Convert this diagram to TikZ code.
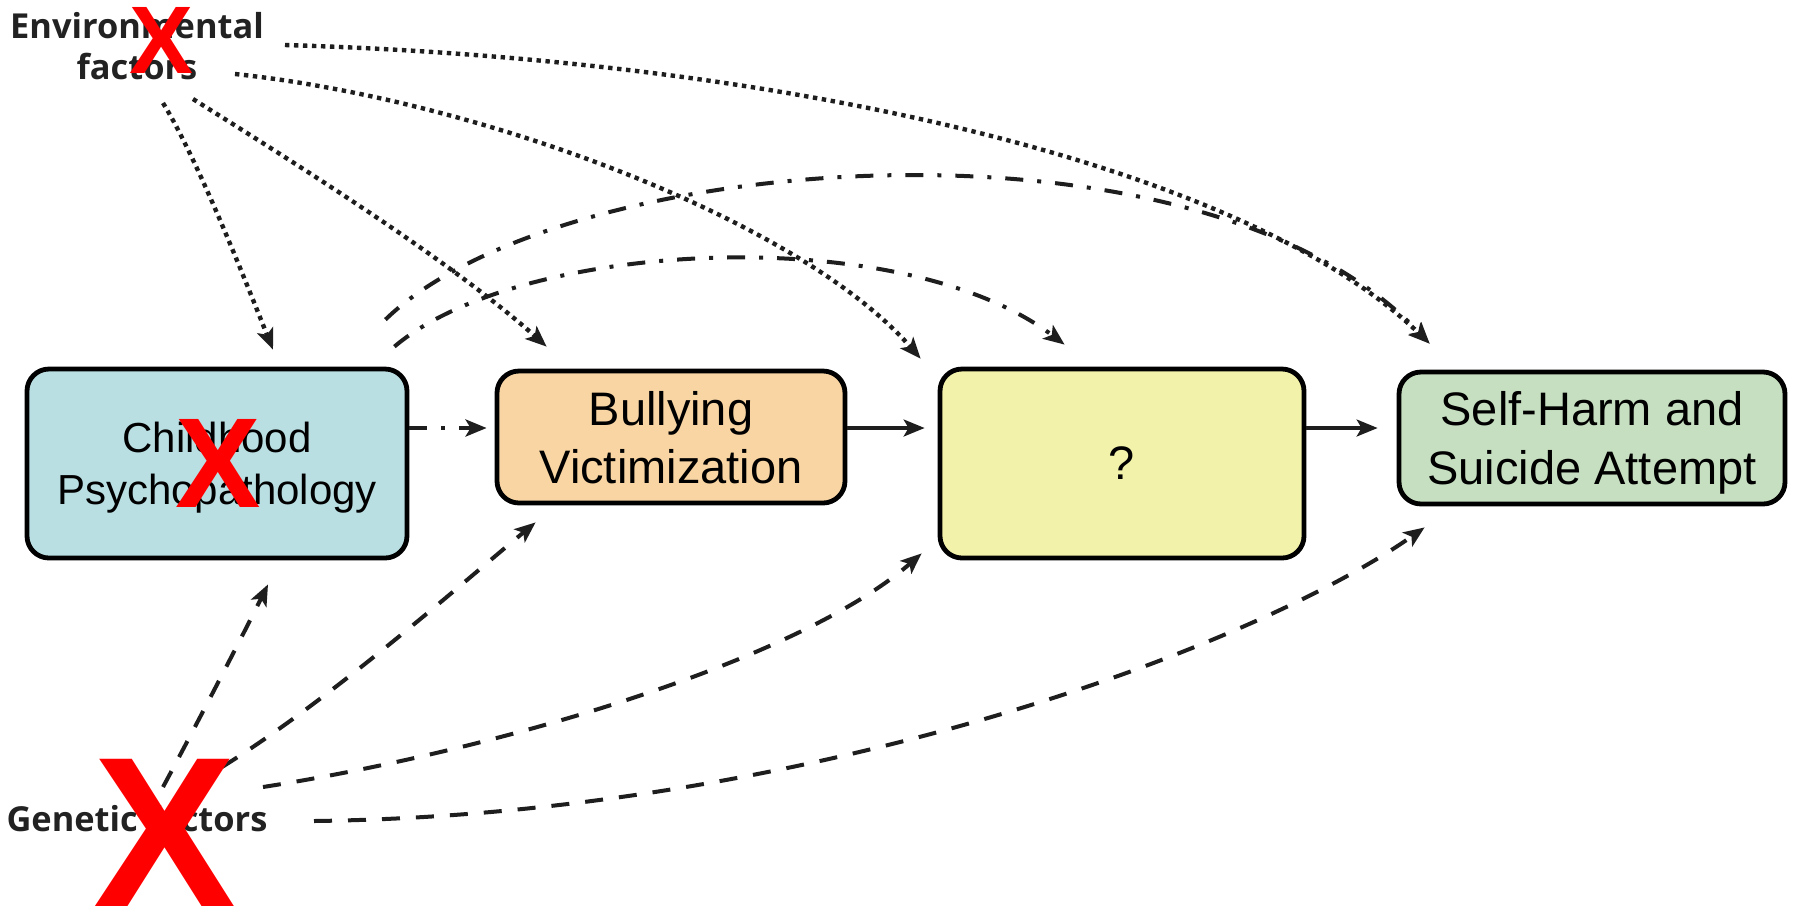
\documentclass[tikz,border=0pt]{standalone}
\usepackage{fontspec}
\setmainfont{Liberation Sans}
\newfontfamily\factorfont{Open Sans}
\usetikzlibrary{arrows.meta,calc}
\definecolor{cpblue}{HTML}{B9DFE3}
\definecolor{bvorange}{HTML}{F8D5A3}
\definecolor{mqyellow}{HTML}{F2F2AA}
\definecolor{shgreen}{HTML}{C7DFC1}
\definecolor{arrgray}{HTML}{1E1E1E}
\definecolor{txtgray}{HTML}{222222}
\tikzset{
  box/.style={draw=black, line width=2.4pt, rounded corners=11pt, align=center, inner sep=0pt, text depth=0pt},
  factor/.style={font=\factorfont\bfseries\fontsize{17.2}{20.5}\selectfont, text=txtgray, align=center, inner sep=0pt},
  cross/.style={text=red, inner sep=0pt},
  link/.style={arrgray, -{Stealth[length=10.5pt,width=8.5pt,inset=2.5pt]}},
  envlink/.style={link, line width=2.2pt, dash pattern=on 2.2pt off 2.3pt},
  genlink/.style={link, line width=2pt, dash pattern=on 9pt off 8pt},
  psylink/.style={link, line width=2pt, dash pattern=on 9pt off 7pt on 2pt off 7pt},
  mainlink/.style={link, line width=1.6pt},
}
\begin{document}
\begin{tikzpicture}[x=0.5pt, y=-0.5pt]
\fill[white] (0,0) rectangle (1793,912);
\useasboundingbox (0,0) rectangle (1793,912);
\node[box, fill=cpblue, minimum width=190pt, minimum height=94.5pt, font=\fontsize{21}{26}\selectfont] (cp) at (217,463.5) {Childhood\\Psychopathology};
\node[box, fill=bvorange, minimum width=174pt, minimum height=66pt, font=\fontsize{23.5}{29}\selectfont] (bv) at (671,437) {Bullying\\Victimization};
\node[box, fill=mqyellow, minimum width=182pt, minimum height=94.5pt, font=\fontsize{23.5}{29}\selectfont] (mq) at (1122,463.5) {?};
\node[box, fill=shgreen, minimum width=193pt, minimum height=66pt, font=\fontsize{23.5}{29.5}\selectfont] (sh) at (1592,438) {Self-Harm and\\Suicide Attempt};
\node[factor] (ef) at (137,46.5) {Environmental\\factors};
\node[factor] (gf) at (137,818) {Genetic factors};
\coordinate (rowy) at (0,428);
\draw[psylink, shorten >=4pt] (cp.east |- rowy) -- (bv.west |- rowy);
\draw[mainlink, shorten >=6.5pt] (bv.east |- rowy) -- (mq.west |- rowy);
\draw[mainlink, shorten >=9.5pt] (mq.east |- rowy) -- (sh.west |- rowy);
\draw[envlink] ($(ef.center)+(26,56.5)$) .. controls (198,160) and (245,280) .. ($(cp.north)+(56,-17)$);
\draw[envlink] ($(ef.center)+(56,52.5)$) .. controls (290,160) and (450,260) .. ($(bv.north west)+(52,-22)$);
\draw[envlink] ($(ef.center)+(98,27.5)$) .. controls (480,100) and (800,220) .. ($(mq.north west)+(-17,-8)$);
\draw[envlink] ($(ef.center)+(148,-1.5)$) .. controls (800,60) and (1250,170) .. ($(sh.north west)+(33,-26)$);
\draw[psylink] ($(cp.north east)+(-24,-47)$) .. controls (560,150) and (1200,100) .. ($(sh.north west)+(33,-26)$);
\draw[psylink] ($(cp.north east)+(-15,-20)$) .. controls (520,240) and (900,220) .. ($(mq.north west)+(127,-22)$);
\draw[genlink] ($(gf.center)+(26,-31)$) .. controls (198,722) and (248,625) .. ($(cp.south)+(51,24)$);
\draw[genlink] ($(gf.center)+(85,-51)$) .. controls (330,700) and (460,585) .. ($(bv.south west)+(41,17)$);
\draw[genlink] ($(gf.center)+(126,-31)$) .. controls (500,750) and (800,660) .. ($(mq.south west)+(-16,-7)$);
\draw[genlink] ($(gf.center)+(177,3)$) .. controls (800,815) and (1250,650) .. ($(sh.south west)+(28,21)$);
\node[cross, font=\bfseries\fontsize{48}{48}\selectfont] (xef) at (162,40) {X};
\node[cross, font=\bfseries\fontsize{64}{64}\selectfont] (xcp) at (218,463) {X};
\node[cross, font=\bfseries\fontsize{107}{107}\selectfont] (xgf) at (165,833) {X};
\end{tikzpicture}
\end{document}
